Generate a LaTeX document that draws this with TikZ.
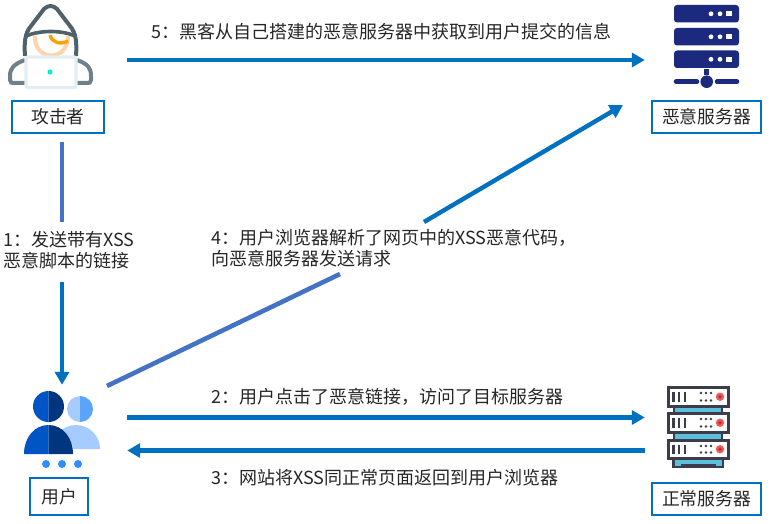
\documentclass[tikz,border=0pt]{standalone}
\usepackage{fontspec}
\usepackage{xcolor}
\usetikzlibrary{arrows.meta}
\setmainfont{Noto Sans CJK SC}
\definecolor{mainblue}{HTML}{0070C0}
\definecolor{softblue}{HTML}{4472C4}
\definecolor{hooddark}{HTML}{4F626B}
\definecolor{armgray}{HTML}{6F8088}
\definecolor{facepeach}{HTML}{FFD3AE}
\definecolor{hairorange}{HTML}{FFA000}
\definecolor{padpale}{HTML}{E3EEF4}
\definecolor{paddot}{HTML}{00F0D0}
\definecolor{evilnavy}{HTML}{1B2A7E}
\definecolor{frontlight}{HTML}{0055C6}
\definecolor{frontdark}{HTML}{00367F}
\definecolor{backlight}{HTML}{A6CCFF}
\definecolor{backdark}{HTML}{5AA4FF}
\definecolor{dotblue}{HTML}{2E8CFF}
\definecolor{srvdark}{HTML}{3C3C4A}
\definecolor{srvcyan}{HTML}{5CC0DC}
\definecolor{srvred}{HTML}{EE5A5A}
\definecolor{srvcore}{HTML}{B83030}
\begin{document}
\begin{tikzpicture}[
    x=1pt, y=-1pt,
    namebox/.style={rectangle, draw=mainblue, line width=2.2pt, inner sep=0pt, text=black!85, font=\fontsize{17.8}{20}\selectfont},
    lab/.style={anchor=west, inner sep=0pt, text=black!85, font=\fontsize{18}{22}\selectfont},
    icon/.style={rectangle, inner sep=0pt},
    flow/.style={draw=mainblue, line width=4.4pt, -{Triangle[length=13pt,width=14pt]}},
    seg/.style={draw=softblue, line width=4.6pt},
]
\useasboundingbox (0,0) rectangle (778,524);

% areas held by the four icons
\node[icon, minimum width=130pt, minimum height=164pt] (hacker) at (62,60) {};
\node[icon, minimum width=122pt, minimum height=80pt]  (evilsrv) at (706,60) {};
\node[icon, minimum width=130pt, minimum height=98pt]  (usr) at (62,434) {};
\node[icon, minimum width=122pt, minimum height=98pt]  (normsrv) at (706,434) {};

% name boxes
\node[namebox, minimum width=92pt, minimum height=32pt]  (hackerbox) at (58,117)  {攻击者};
\node[namebox, minimum width=109pt, minimum height=32pt] (evilbox)   at (706.5,117) {恶意服务器};
\node[namebox, minimum width=58pt, minimum height=37pt]  (usrbox)    at (59,496.5) {用户};
\node[namebox, minimum width=109pt, minimum height=32pt] (normbox)   at (706.5,499) {正常服务器};

% step labels
\node[lab] (step5) at (151,32)   {5：黑客从自己搭建的恶意服务器中获取到用户提交的信息};
\node[lab] (step1a) at (3,240)   {1：发送带有XSS};
\node[lab] (step1b) at (3,261)   {恶意脚本的链接};
\node[lab] (step4a) at (211,238) {4：用户浏览器解析了网页中的XSS恶意代码，};
\node[lab] (step4b) at (211,259) {向恶意服务器发送请求};
\node[lab] (step2) at (211,397)  {2：用户点击了恶意链接，访问了目标服务器};
\node[lab] (step3) at (211,478)  {3：网站将XSS同正常页面返回到用户浏览器};

% ends of the broken lines
\coordinate (gap1a) at (62,222);
\coordinate (gap1b) at (62,282);
\coordinate (from4) at (107,386);
\coordinate (gap4a) at (340,274);
\coordinate (gap4b) at (424,222);
\coordinate (to4)   at (623,105);
\coordinate (row2)  at (0,417.5);
\coordinate (row3)  at (0,450.5);

% connectors
\draw[flow] (hacker.east) -- (evilsrv.west);
\draw[seg] (hacker.south) -- (gap1a);
\draw[flow] (gap1b) -- (usr.north);
\draw[seg] (from4) -- (gap4a);
\draw[flow] (gap4b) -- (to4);
\draw[flow] (usr.east |- row2) -- (normsrv.west |- row2);
\draw[flow] (normsrv.west |- row3) -- (usr.east |- row3);

% attacker icon
\draw[facepeach, line width=4pt] (35,36) .. controls (34,62) and (68,62) .. (68,36);
\draw[hairorange, line width=3.4pt] (50,35) .. controls (52,43) and (61,45) .. (68,41);
\draw[hooddark, line width=4pt, line join=round] (25,56) .. controls (24,42) and (25,33) .. (31,26) -- (44,9) .. controls (48,5) and (53,5) .. (57,9) -- (70,26) .. controls (76,33) and (77,42) .. (76,56);
\draw[hooddark, line width=3.6pt] (26,36) .. controls (40,30) and (62,30) .. (75,36);
\draw[armgray, line width=4pt] (25,60) .. controls (14,64) and (10,68) .. (10,76) -- (10,80) .. controls (10,83) and (12,83) .. (14,83) -- (25,83);
\draw[armgray, line width=4pt] (77,60) .. controls (88,64) and (91,68) .. (91,76) -- (91,80) .. controls (91,83) and (89,83) .. (87,83) -- (77,83);
\draw[padpale, fill=white, line width=3.4pt, rounded corners=2pt] (26,57) rectangle (76,87.5);
\fill[paddot] (50,72) circle (2.6);

% malicious server icon
\foreach \ytop in {5,28,50.5}{
    \fill[evilnavy, rounded corners=3pt] (674,\ytop) rectangle (739,\ytop+17.5);
    \fill[white] (711,\ytop+8.8) circle (2.4);
    \fill[white] (720,\ytop+8.8) circle (2.4);
    \fill[white] (726.4,\ytop+6.2) rectangle (731.6,\ytop+11.4);
}
\fill[evilnavy] (704,69) rectangle (709.4,75);
\fill[evilnavy] (706.7,81.7) circle (6.3);
\draw[evilnavy, line width=4.6pt, line cap=round] (676,81.7) -- (697,81.7);
\draw[evilnavy, line width=4.6pt, line cap=round] (717,81.7) -- (737,81.7);

% user icon
\fill[backlight] (52,449) arc[start angle=180, end angle=360, radius=24] -- cycle;
\fill[backlight] (80,396) arc[start angle=270, end angle=90, radius=13] -- cycle;
\fill[backdark] (80,396) arc[start angle=270, end angle=450, radius=13] -- cycle;
\fill[white] (48.5,406.5) circle (17);
\fill[white] (23,455) arc[start angle=180, end angle=360, radius=25.5] -- cycle;
\fill[frontlight] (48.5,391) arc[start angle=270, end angle=90, radius=15.5] -- cycle;
\fill[frontdark] (48.5,391) arc[start angle=270, end angle=450, radius=15.5] -- cycle;
\fill[frontlight] (48.5,425) .. controls (34,425) and (24,438) .. (24,454) -- (48.5,454) -- cycle;
\fill[frontdark] (48.5,425) .. controls (63,425) and (73,438) .. (73,454) -- (48.5,454) -- cycle;
\foreach \xdot in {46,62,78}{
    \fill[dotblue] (\xdot,464) circle (4);
}

% normal server icon
\fill[srvcyan] (674,405) rectangle (722,414);
\fill[srvcyan] (674,431) rectangle (722,441);
\draw[srvdark, line width=2.6pt] (674,404) -- (674,414) (722,404) -- (722,414);
\draw[srvdark, line width=2.6pt] (674,431) -- (674,441) (722,431) -- (722,441);
\draw[srvdark, line width=2.6pt, fill=srvcyan] (673.5,458) -- (673.5,467) -- (723,467) -- (723,458);
\draw[srvdark, line width=2.6pt] (681,465.5) -- (716,465.5);
\foreach \ytop/\yheight in {387.5/18.5,413.5/18.5,440.5/17.5}{
    \draw[srvdark, line width=3pt, fill=white] (668.5,\ytop) rectangle (728.5,\ytop+\yheight);
    \foreach \xbar in {673.5,679,685}{
        \draw[srvdark, line width=2.6pt] (\xbar,\ytop+4) -- (\xbar,\ytop+\yheight-4);
    }
    \foreach \xdot in {701,706,711}{
        \fill[srvdark] (\xdot,\ytop+5.5) circle (1.3);
        \fill[srvdark] (\xdot,\ytop+\yheight-5.5) circle (1.3);
    }
    \fill[srvred] (720,\ytop+\yheight/2) circle (4.2);
    \fill[srvcore] (720,\ytop+\yheight/2) circle (1.8);
}
\end{tikzpicture}
\end{document}
